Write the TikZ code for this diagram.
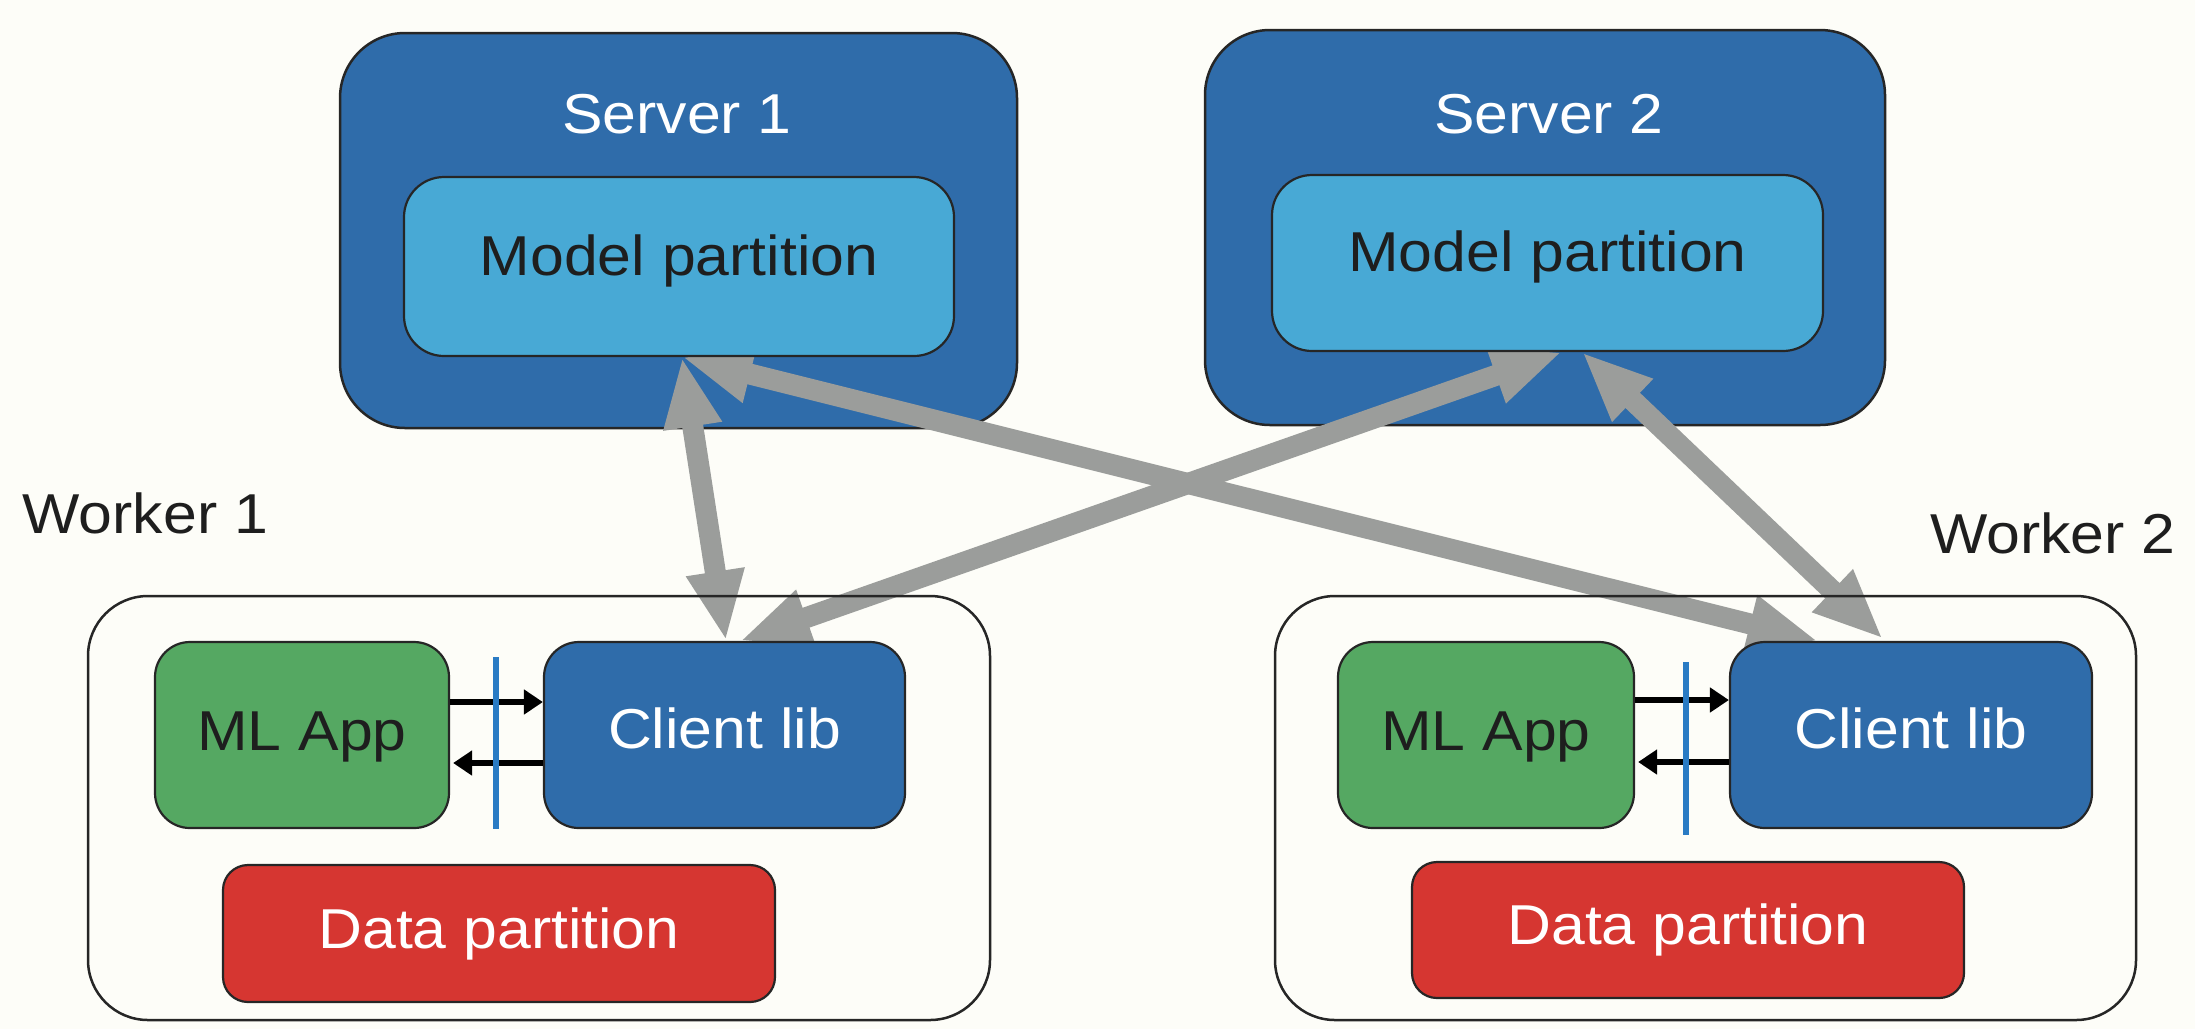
\documentclass[tikz,border=0pt]{standalone}
\usepackage{fontspec}
\usepackage{graphicx}
\setmainfont{Liberation Sans}
\usetikzlibrary{arrows.meta,calc}
\definecolor{bgc}{HTML}{FDFDF8}
\definecolor{srvblue}{HTML}{2F6CAA}
\definecolor{mpblue}{HTML}{48A9D5}
\definecolor{appgreen}{HTML}{55A862}
\definecolor{datared}{HTML}{D63631}
\definecolor{arrgray}{HTML}{9B9D9B}
\definecolor{sepblue}{HTML}{2A7BC4}
\definecolor{darktext}{HTML}{1E1E1E}
\newcommand{\lbl}[1]{\scalebox{1.08}[1]{#1}}
\pgfdeclarelayer{bglayer}
\pgfdeclarelayer{arrlayer}
\pgfsetlayers{bglayer,arrlayer,main}
\tikzset{
  txt/.style={font=\fontsize{16}{19}\selectfont, inner sep=0pt},
  server/.style={fill=srvblue, draw=black!85, line width=0.25mm, rounded corners=6.5mm},
  mpbox/.style={fill=mpblue, draw=black!85, line width=0.22mm, rounded corners=4mm, txt, text=darktext, text height=0.73em, text depth=0.22em},
  worker/.style={draw=black!85, line width=0.25mm, rounded corners=6mm},
  appbox/.style={fill=appgreen, draw=black!85, line width=0.22mm, rounded corners=3.5mm, txt, text=darktext, text height=1.0em, text depth=0.1em},
  clientbox/.style={fill=srvblue, draw=black!85, line width=0.22mm, rounded corners=3.5mm, txt, text=white, text height=0.87em, text depth=0.1em},
  databox/.style={fill=datared, draw=black!85, line width=0.22mm, rounded corners=2.5mm, txt, text=white, text height=0.98em, text depth=0.14em},
  bigarrow/.style={draw=arrgray, line width=2.1mm,
    {Triangle[length=7mm,width=5.4mm]}-{Triangle[length=7mm,width=5.4mm]}},
  smallarrow/.style={draw=black, line width=0.6mm, -{Triangle[length=1.9mm,width=2.4mm]}},
  sepline/.style={draw=sepblue, line width=0.65mm}
}
\begin{document}
\begin{tikzpicture}[x=0.1mm,y=-0.1mm]
\begin{pgfonlayer}{bglayer}
\fill[bgc] (0,0) rectangle (2195,1029);
% servers
\node[server, minimum width=67.7mm, minimum height=39.5mm] (s1) at (678.5,230.5) {};
\node[server, minimum width=68mm, minimum height=39.5mm] (s2) at (1545,227.5) {};
\node[txt, text=white] (s1t) at (677,114) {\lbl{Server 1}};
\node[txt, text=white] (s2t) at (1549,114) {\lbl{Server 2}};
\end{pgfonlayer}
\useasboundingbox (0,0) rectangle (2195,1029);

% model partitions
\node[mpbox, minimum width=55mm, minimum height=17.9mm] (mp1) at (679,266.5) {\lbl{Model partition}};
\node[mpbox, minimum width=55.1mm, minimum height=17.6mm] (mp2) at (1547.5,263) {\lbl{Model partition}};

% workers
\node[worker, minimum width=90.2mm, minimum height=42.4mm] (w1) at (539,808) {};
\node[worker, minimum width=86.1mm, minimum height=42.4mm] (w2) at (1705.5,808) {};
\node[txt, text=darktext, anchor=west] (w1t) at (22,513) {\lbl{Worker 1}};
\node[txt, text=darktext, anchor=east] (w2t) at (2176,533) {\lbl{Worker 2}};

\node[appbox, minimum width=29.4mm, minimum height=18.6mm] (ml1) at (302,735) {\lbl{ML App}};
\node[clientbox, minimum width=36.1mm, minimum height=18.6mm] (cl1) at (724.5,735) {\lbl{Client lib}};
\node[databox, minimum width=55.2mm, minimum height=13.7mm] (dp1) at (499,933.5) {\lbl{Data partition}};

\node[appbox, minimum width=29.6mm, minimum height=18.6mm] (ml2) at (1486,735) {\lbl{ML App}};
\node[clientbox, minimum width=36.2mm, minimum height=18.6mm] (cl2) at (1911,735) {\lbl{Client lib}};
\node[databox, minimum width=55.2mm, minimum height=13.6mm] (dp2) at (1688,930) {\lbl{Data partition}};

% big gray arrows, between servers and the inner boxes
\begin{pgfonlayer}{arrlayer}
\draw[bigarrow] ($(mp1.south)+(3,0)$) -- ($(cl1.north)+(1.5,0)$);
\draw[bigarrow] ($(mp2.south)+(14.5,0)$) -- ($(cl1.north)+(15.5,0)$);
\draw[bigarrow] ($(mp1.south)+(3,0)$) -- ($(cl2.north)+(-93,0)$);
\draw[bigarrow] ($(mp2.south)+(34.5,0)$) -- ($(cl2.north)+(-28,-2)$);
\end{pgfonlayer}

% small arrows
\draw[smallarrow] ($(ml1.east)+(0,-33)$) -- ($(cl1.west)+(0,-33)$);
\draw[smallarrow] ($(cl1.west)+(0,28)$) -- ($(ml1.east)+(3,28)$);
\draw[smallarrow] ($(ml2.east)+(0,-35)$) -- ($(cl2.west)+(0,-35)$);
\draw[smallarrow] ($(cl2.west)+(0,27)$) -- ($(ml2.east)+(3,27)$);

% separators
\coordinate (sep1a) at (496,657);
\coordinate (sep1b) at (496,829);
\coordinate (sep2a) at (1686,662);
\coordinate (sep2b) at (1686,835);
\draw[sepline] (sep1a) -- (sep1b);
\draw[sepline] (sep2a) -- (sep2b);
\end{tikzpicture}
\end{document}
